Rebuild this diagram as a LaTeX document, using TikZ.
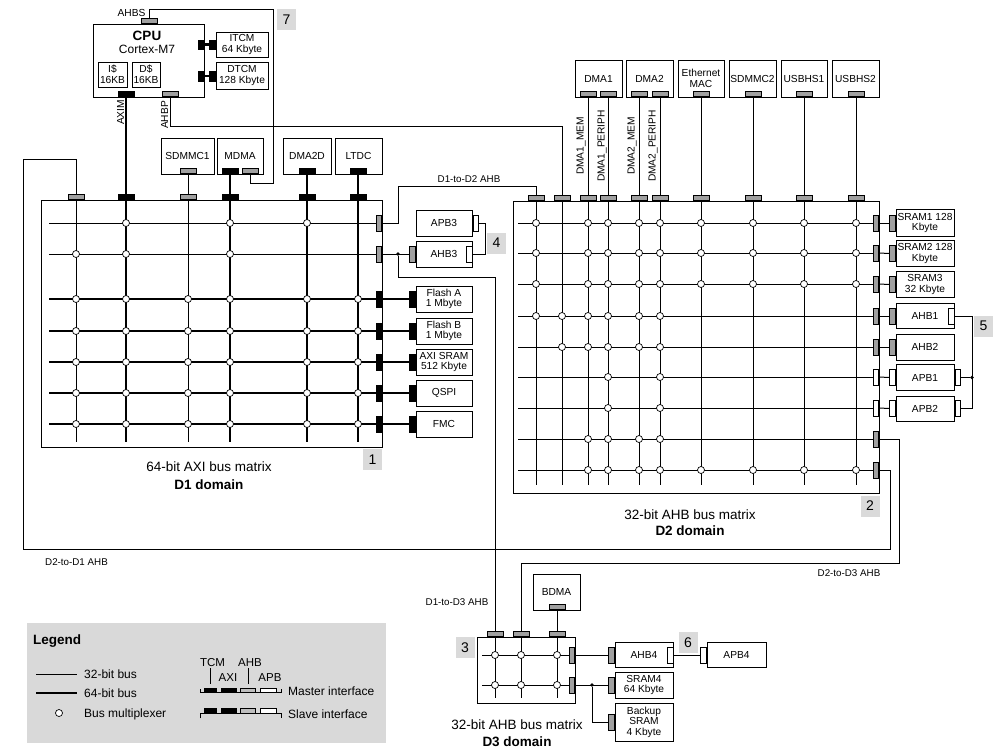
\documentclass[tikz,border=0pt]{standalone}
\usepackage{fontspec}
\setmainfont{Liberation Sans}
\usetikzlibrary{calc}
\definecolor{portgray}{HTML}{A0A0A0}
\definecolor{numgray}{HTML}{DADADA}
\definecolor{leggray}{HTML}{D9D9D9}
\definecolor{legport}{HTML}{BEBEBE}
\newcommand\fsA{\fontsize{10.2}{10.5}\selectfont}
\newcommand\fsS{\fontsize{9.8}{10}\selectfont}
\newcommand\fsL{\fontsize{13.5}{16}\selectfont}
\newcommand\fsM{\fontsize{12}{14}\selectfont}
\newcommand\fsK{\fontsize{11.5}{13}\selectfont}
\tikzset{
  bus/.style={line width=1pt},
  wbus/.style={line width=2.3pt},
  blk/.style={draw, line width=1pt, fill=white, inner sep=0pt, align=center, font=\fsA},
  ph/.style={draw, line width=0.7pt, inner sep=0pt, minimum width=16pt, minimum height=5.5pt},
  pv/.style={draw, line width=0.7pt, inner sep=0pt, minimum width=5.5pt, minimum height=16pt},
  pG/.style={fill=portgray},
  pB/.style={fill=black},
  pW/.style={fill=white},
  mux/.style={circle, draw, fill=white, line width=0.7pt, inner sep=0pt, minimum size=7pt},
  numbox/.style={fill=numgray, inner sep=0pt, minimum width=19pt, minimum height=21pt, font=\fontsize{14}{14}\selectfont},
  lbl/.style={inner sep=0pt, font=\fsS},
  dom/.style={inner sep=0pt, font=\fsL},
  jdot/.style={circle, fill=black, inner sep=0pt, minimum size=3.8pt},
  mbox/.style={draw, line width=1pt, inner sep=0pt},
  legtxt/.style={inner sep=0pt, font=\fsM, anchor=base west},
}
\begin{document}
\begin{tikzpicture}[x=1pt,y=-1pt]
\useasboundingbox (0,0) rectangle (999,755);
\fill[white] (0,0) rectangle (999,755);

% ================= D1 matrix =================
\node[mbox, minimum width=341pt, minimum height=247pt] (D1) at (211.5,323.5) {};
\foreach \y/\w in {223/bus,254/bus,299/wbus,331/wbus,362/wbus,393/wbus,424/wbus}
  \draw[\w] (49,\y) -- (378,\y);
\foreach \x/\w in {76/bus,126/wbus,188/bus,230/wbus,307/wbus,358/wbus}
  \draw[\w] (\x,200) -- (\x,442);
\foreach \x/\y in {126/223,230/223,307/223,76/254,126/254,230/254}
  \node[mux] (d1m-\x-\y) at (\x,\y) {};
\foreach \y in {299,331,362,393,424}
  \foreach \x in {76,126,188,230,307,358}
    \node[mux] (d1m-\x-\y) at (\x,\y) {};
\foreach \x/\c [count=\i] in {76/pG,126/pB,188/pG,230/pB,307/pB,358/pB}
  \node[ph,\c,anchor=south] (d1t\i) at (\x,200) {};
\foreach \y/\c [count=\i] in {223/pG,254/pG,299/pB,331/pB,362/pB,393/pB,424/pB}
  \node[pv,\c,anchor=east] (d1r\i) at (382,\y) {};

% D1 slaves
\node[blk, minimum width=56pt, minimum height=26pt] (apb3) at (444,223) {APB3};
\node[blk, minimum width=56pt, minimum height=26pt] (ahb3) at (444,254) {AHB3};
\node[blk, minimum width=56pt, minimum height=26pt] (flasha) at (444,299) {Flash A\\1 Mbyte};
\node[blk, minimum width=56pt, minimum height=26pt] (flashb) at (444,331) {Flash B\\1 Mbyte};
\node[blk, minimum width=56pt, minimum height=26pt] (axisram) at (444,362) {AXI SRAM\\512 Kbyte};
\node[blk, minimum width=56pt, minimum height=26pt] (qspi) at (444,393) {QSPI};
\node[blk, minimum width=56pt, minimum height=26pt] (fmc) at (444,424) {FMC};
\node[pv,pG,anchor=east] (ahb3-p) at (ahb3.west) {};
\node[pv,pW,anchor=east] (ahb3i) at (ahb3.east) {};
\node[pv,pW,anchor=west] (apb3o) at (apb3.east) {};
\foreach \n in {flasha,flashb,axisram,qspi,fmc}
  \node[pv,pB,anchor=east] (\n-p) at (\n.west) {};
\draw[bus] (d1r2.east) -- (ahb3-p.west);
\foreach \i/\n in {3/flasha,4/flashb,5/axisram,6/qspi,7/fmc}
  \draw[wbus] (d1r\i.east) -- (\n-p.west);
\draw[bus] (apb3o.east) -- ++(7,0) |- (ahb3i.east);
\node[jdot] (j1) at (398,254) {};

% ================= CPU =================
\node[mbox, fill=white, minimum width=111pt, minimum height=73pt] (cpu) at (148.5,60.5) {};
\node[inner sep=0pt, font=\bfseries\fsL] (cpuT) at (147,35.5) {CPU};
\node[inner sep=0pt, font=\fsM] (cpuS) at (147,49) {Cortex-M7};
\node[blk, minimum width=29pt, minimum height=25pt] (icache) at (112.5,74.5) {I\$\\16KB};
\node[blk, minimum width=28pt, minimum height=25pt] (dcache) at (146,74.5) {D\$\\16KB};
\node[ph,pB,anchor=south] (axim) at (126,97) {};
\node[ph,pG,anchor=south] (ahbp) at (170.5,97) {};
\node[ph,pG,anchor=south] (ahbs) at (149,24) {};
\node[inner sep=0pt, font=\fsA] (l-ahbs) at (131.5,12.5) {AHBS};
\node[inner sep=0pt, font=\fsA, rotate=90] (l-axim) at (120.5,112.5) {AXIM};
\node[inner sep=0pt, font=\fsA, rotate=90] (l-ahbp) at (164.5,115) {AHBP};
\node[blk, minimum width=52pt, minimum height=25pt] (itcm) at (242,44.5) {ITCM\\64 Kbyte};
\node[blk, minimum width=52pt, minimum height=27pt] (dtcm) at (242,75.5) {DTCM\\128 Kbyte};
\node[pv,pB,minimum height=9pt,anchor=east] (itcmc) at (cpu.east |- itcm.center) {};
\node[pv,pB,minimum height=9pt,anchor=east] (itcmp) at (itcm.west) {};
\node[pv,pB,minimum height=10pt,anchor=east] (dtcmc) at (204,76) {};
\node[pv,pB,minimum height=10pt,anchor=east] (dtcmp) at (dtcm.west |- dtcmc.center) {};
\draw[wbus] (itcmc.east) -- (itcmp.west);
\draw[wbus] (dtcmc.east) -- (dtcmp.west);

% D1 masters
\node[blk, minimum width=53pt, minimum height=36pt] (sdmmc1) at (187.5,156) {SDMMC1};
\node[blk, minimum width=46pt, minimum height=36pt] (mdma) at (240,156) {MDMA};
\node[blk, minimum width=48pt, minimum height=36pt] (dma2d) at (307,156) {DMA2D};
\node[blk, minimum width=47pt, minimum height=36pt] (ltdc) at (358.5,156) {LTDC};
\node[ph,pG,anchor=south] (sdmmc1p) at (188,174) {};
\node[ph,pB,anchor=south] (mdmap) at (230,174) {};
\node[ph,pG,anchor=south] (mdmag) at (250,174) {};
\node[ph,pB,anchor=south] (dma2dp) at (307,174) {};
\node[ph,pB,anchor=south] (ltdcp) at (358,174) {};
\draw[wbus] (axim.south) -- (d1t2.north);
\draw[bus] (sdmmc1p.south) -- (d1t3.north);
\draw[wbus] (mdmap.south) -- (d1t4.north);
\draw[wbus] (dma2dp.south) -- (d1t5.north);
\draw[wbus] (ltdcp.south) -- (d1t6.north);

% ================= D2 matrix =================
\node[mbox, minimum width=366pt, minimum height=292pt] (D2) at (696,347) {};
\foreach \y in {223,253,284,316,347,377,408,439,470}
  \draw[bus] (518,\y) -- (875,\y);
\foreach \x in {536,562,588,608,639,660,701,753,804,856}
  \draw[bus] (\x,201) -- (\x,485);
\foreach \y in {223,253,284}
  \foreach \x in {536,588,608,639,660,701,753,804,856}
    \node[mux] (d2m-\x-\y) at (\x,\y) {};
\foreach \x/\y in {536/316,562/316,588/316,608/316,639/316,660/316,
                   562/347,588/347,608/347,639/347,660/347,
                   608/377,660/377,608/408,660/408,
                   588/439,608/439,639/439,660/439}
  \node[mux] (d2m-\x-\y) at (\x,\y) {};
\foreach \x in {588,608,639,660,701,753,804,856}
  \node[mux] (d2m-\x-470) at (\x,470) {};
\foreach \x [count=\i] in {536,562,588,608,639,660,701,753,804,856}
  \node[ph,pG,anchor=south] (d2t\i) at (\x,201) {};
\foreach \y/\c [count=\i] in {223/pG,253/pG,284/pG,316/pG,347/pG,377/pW,408/pW,439/pG,470/pG}
  \node[pv,\c,anchor=east] (d2r\i) at (879,\y) {};

% D2 slaves
\node[blk, minimum width=58pt, minimum height=27pt] (sram1) at (925,223) {SRAM1 128\\Kbyte};
\node[blk, minimum width=58pt, minimum height=26pt] (sram2) at (925,253.5) {SRAM2 128\\Kbyte};
\node[blk, minimum width=58pt, minimum height=26pt] (sram3) at (925,284.5) {SRAM3\\32 Kbyte};
\node[blk, minimum width=58pt, minimum height=25pt] (ahb1) at (925,316) {AHB1};
\node[blk, minimum width=58pt, minimum height=26pt] (ahb2) at (925,347) {AHB2};
\node[blk, minimum width=58pt, minimum height=26pt] (apb1) at (925,377.5) {APB1};
\node[blk, minimum width=58pt, minimum height=25pt] (apb2) at (925,408.5) {APB2};
\foreach \n/\c in {sram1/pG,sram2/pG,sram3/pG,ahb1/pG,ahb2/pG,apb1/pW,apb2/pW}
  \node[pv,\c,anchor=east] (\n-p) at (\n.west) {};
\foreach \i/\n in {1/sram1,2/sram2,3/sram3,4/ahb1,5/ahb2,6/apb1,7/apb2}
  \draw[bus] (d2r\i.east) -- (\n-p.west);
\node[pv,pW,anchor=east] (ahb1i) at (ahb1.east) {};
\node[pv,pW,anchor=west] (apb1o) at (apb1.east) {};
\node[pv,pW,anchor=west] (apb2o) at (apb2.east) {};
\coordinate (w9) at (972,408.5);
\draw[bus] (ahb1i.east) -| (w9) -- (apb2o.east);
\node[jdot] (j5) at (972,377.5) {};
\draw[bus] (j5) -- (apb1o.east);

% D2 masters
\node[blk, minimum width=47pt, minimum height=37pt] (dma1) at (598.5,78.5) {DMA1};
\node[blk, minimum width=47pt, minimum height=37pt] (dma2) at (649.5,78.5) {DMA2};
\node[blk, minimum width=46pt, minimum height=37pt] (eth) at (701,78.5) {Ethernet\\MAC};
\node[blk, minimum width=47pt, minimum height=37pt] (sdmmc2) at (752.5,78.5) {SDMMC2};
\node[blk, minimum width=46pt, minimum height=37pt] (usb1) at (804,78.5) {USBHS1};
\node[blk, minimum width=47pt, minimum height=37pt] (usb2) at (855.5,78.5) {USBHS2};
\foreach \x [count=\i from 3] in {588,608,639,660,701,753,804,856}
  {\node[ph,pG,anchor=south] (mp\i) at (\x,97) {};
   \draw[bus] (mp\i.south) -- (d2t\i.north);}
\node[inner sep=0pt, font=\fsA, rotate=90] (l-dma1m) at (581,146) {DMA1\_MEM};
\node[inner sep=0pt, font=\fsA, rotate=90] (l-dma1p) at (602,146) {DMA1\_PERIPH};
\node[inner sep=0pt, font=\fsA, rotate=90] (l-dma2m) at (632,146) {DMA2\_MEM};
\node[inner sep=0pt, font=\fsA, rotate=90] (l-dma2p) at (653,146) {DMA2\_PERIPH};

% ================= D3 matrix =================
\node[mbox, minimum width=98pt, minimum height=66pt] (D3) at (526,670) {};
\foreach \y in {655,685} \draw[bus] (482,\y) -- (571,\y);
\foreach \x in {495,521,557} \draw[bus] (\x,637) -- (\x,698);
\foreach \y in {655,685} \foreach \x in {495,521,557}
  \node[mux] (d3m-\x-\y) at (\x,\y) {};
\foreach \x [count=\i] in {495,521,557}
  \node[ph,pG,anchor=south] (d3t\i) at (\x,637) {};
\node[pv,pG,anchor=east] (d3r1) at (575,655) {};
\node[pv,pG,anchor=east] (d3r2) at (575,685) {};
\node[blk, minimum width=47pt, minimum height=36pt] (bdma) at (556.5,592) {BDMA};
\node[ph,pG,anchor=south] (bdmap) at (557,610) {};
\draw[bus] (bdmap.south) -- (d3t3.north);
\node[blk, minimum width=58pt, minimum height=25pt] (ahb4) at (644,655) {AHB4};
\node[pv,pG,anchor=east] (ahb4p) at (ahb4.west) {};
\node[pv,pW,anchor=east] (ahb4i) at (ahb4.east) {};
\node[blk, minimum width=59pt, minimum height=25pt] (apb4) at (736.5,655) {APB4};
\node[pv,pW,anchor=east] (apb4p) at (apb4.west) {};
\node[blk, minimum width=58pt, minimum height=26pt] (sram4) at (644,685) {SRAM4\\64 Kbyte};
\node[pv,pG,anchor=east] (sram4p) at (sram4.west) {};
\node[blk, minimum width=58pt, minimum height=38pt] (bsram) at (644,722) {Backup\\SRAM\\4 Kbyte};
\node[pv,pG,anchor=east] (bsramp) at (bsram.west) {};
\draw[bus] (d3r1.east) -- (ahb4p.west);
\draw[bus] (d3r2.east) -- (sram4p.west);
\node[jdot] (j3) at (592,685) {};
\draw[bus] (j3) |- (bsramp.west);
\draw[bus] (ahb4i.east) -- (apb4p.west);

% ================= inter-domain connections =================
\coordinate (w1) at (398,186);
\draw[bus] (d1r1.east) -| (w1) -| (d2t1.north);
\coordinate (w2) at (495,277);
\draw[bus] (j1) |- (w2) -- (d3t1.north);
\coordinate (w3) at (890,549.5);
\coordinate (w4) at (23,159);
\draw[bus] (d2r9.east) -| (w3) -| (w4) -| (d1t1.north);
\coordinate (w5) at (899,563);
\draw[bus] (d2r8.east) -| (w5) -| (d3t2.north);
\coordinate (w6) at (273,9);
\coordinate (w7) at (273,183);
\draw[bus] (ahbs.north) |- (w6) -- (w7) -| (mdmag.south);
\coordinate (w8) at (562,126);
\draw[bus] (ahbp.south) |- (w8) -- (d2t2.north);

% labels of connections
\node[lbl] (l-d1d2) at (469,179.5) {D1-to-D2 AHB};
\node[lbl] (l-d2d1) at (76.5,562) {D2-to-D1 AHB};
\node[lbl] (l-d2d3) at (849,573) {D2-to-D3 AHB};
\node[lbl] (l-d1d3) at (457,602) {D1-to-D3 AHB};

% domain labels
\node[dom] (d1l1) at (209,467) {64-bit AXI bus matrix};
\node[dom, font=\bfseries\fsL] (d1l2) at (209,484.5) {D1 domain};
\node[dom] (d2l1) at (690,515) {32-bit AHB bus matrix};
\node[dom, font=\bfseries\fsL] (d2l2) at (690,531) {D2 domain};
\node[dom] (d3l1) at (517,725) {32-bit AHB bus matrix};
\node[dom, font=\bfseries\fsL] (d3l2) at (517,742) {D3 domain};

% number boxes
\node[numbox] (n1) at (372.5,459.5) {1};
\node[numbox] (n2) at (870,506) {2};
\node[numbox] (n3) at (465,647.5) {3};
\node[numbox] (n4) at (496.5,243) {4};
\node[numbox] (n5) at (983.5,326) {5};
\node[numbox] (n6) at (688,642.5) {6};
\node[numbox] (n7) at (286.5,19.5) {7};

% ================= Legend =================
\node[fill=leggray, inner sep=0pt, minimum width=359pt, minimum height=120pt] (legend) at (206.5,683) {};
\node[inner sep=0pt, font=\bfseries\fsL, anchor=base west] (legT) at (33,644.5) {Legend};
\coordinate (lg1a) at (36,674); \coordinate (lg1b) at (77,674);
\draw[bus] (lg1a) -- (lg1b);
\node[legtxt] (lg1t) at (84,678.3) {32-bit bus};
\coordinate (lg2a) at (36,693); \coordinate (lg2b) at (77,693);
\draw[wbus] (lg2a) -- (lg2b);
\node[legtxt] (lg2t) at (84,697.7) {64-bit bus};
\node[mux] (lgm) at (59,713) {};
\node[legtxt] (lg3t) at (84,717.7) {Bus multiplexer};
\node[inner sep=0pt, font=\fsK, anchor=base] (lgtcm) at (212.5,666) {TCM};
\node[inner sep=0pt, font=\fsK, anchor=base] (lgahb) at (250,666) {AHB};
\node[inner sep=0pt, font=\fsK, anchor=base] (lgaxi) at (228,681.7) {AXI};
\node[inner sep=0pt, font=\fsK, anchor=base] (lgapb) at (270,681.7) {APB};
\draw[bus] (210.7,668.3) -- (210.7,684);
\draw[bus] (248.3,668.3) -- (248.3,684);
% master glyph
\draw[line width=0.7pt] (200.7,689.3) -- (200.7,692.7) -- (281,692.7) -- (281,689.3);
\draw[line width=0.7pt, fill=black] (204.3,688.3) rectangle (216.7,692.7);
\draw[line width=0.7pt, fill=black] (221,688.3) rectangle (236.7,692.7);
\draw[line width=0.7pt, fill=legport] (240.7,688.3) rectangle (255.7,692.7);
\draw[line width=0.7pt, fill=white] (260.7,688.3) rectangle (276.7,692.7);
\node[legtxt] (lgmast) at (288,695.7) {Master interface};
% slave glyph
\draw[line width=0.7pt] (200.7,718.3) -- (200.7,713.3) -- (281,713.3) -- (281,718.3);
\draw[line width=0.7pt, fill=black] (204.3,708.3) rectangle (216.7,713.3);
\draw[line width=0.7pt, fill=black] (221,708.3) rectangle (236.7,713.3);
\draw[line width=0.7pt, fill=legport] (240.7,708.3) rectangle (255.7,713.3);
\draw[line width=0.7pt, fill=white] (260.7,708.3) rectangle (276.7,713.3);
\node[legtxt] (lgslv) at (288,718.3) {Slave interface};
\end{tikzpicture}
\end{document}
